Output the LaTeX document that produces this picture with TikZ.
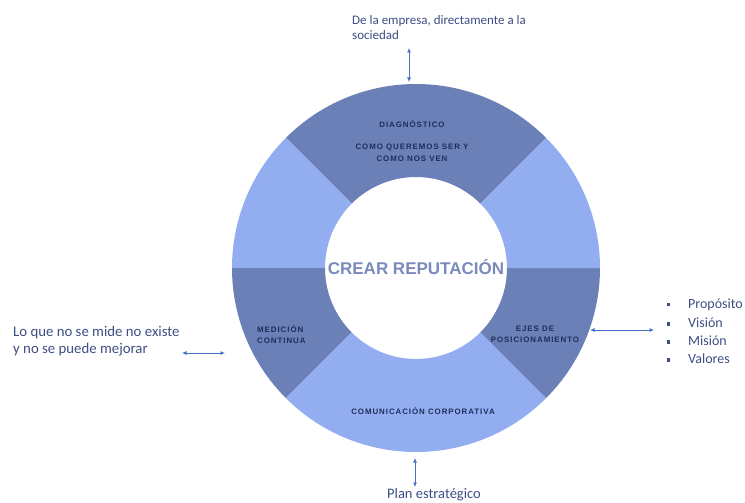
\documentclass[tikz,border=0pt]{standalone}
\usepackage{fontspec}
\setmainfont{Carlito}
\newfontfamily\arialfont{Liberation Sans}
\newfontfamily\segfont[LetterSpace=12]{Liberation Sans}
\usetikzlibrary{arrows.meta}
\definecolor{ringdark}{HTML}{6B80B6}
\definecolor{ringlight}{HTML}{93AEF0}
\definecolor{segtext}{HTML}{1F2D5C}
\definecolor{notetext}{HTML}{3E4E85}
\definecolor{linkblue}{HTML}{4472C4}
\definecolor{coretext}{HTML}{7A8ABC}
\begin{document}
\begin{tikzpicture}[x=1pt,y=1pt,
  segtxt/.style={font=\segfont\bfseries\fontsize{7.9}{11.5}\selectfont, text=segtext, align=center, inner sep=0pt},
  coretxt/.style={font=\arialfont\bfseries\fontsize{17}{20}\selectfont, text=coretext, inner sep=0pt},
  note/.style={font=\fontsize{14}{17.5}\selectfont, text=notetext, align=left, inner sep=0pt},
  link/.style={draw=linkblue, line width=0.8pt, {Latex[length=4.5pt,width=4pt]}-{Latex[length=4.5pt,width=4pt]}}
]
\useasboundingbox (0,0) rectangle (745,-503);
\coordinate (c) at (416,-268);
\def\Ro{184}
\def\Ri{91}
% ring made of six sectors
\foreach \a/\b/\col in {45/135/ringdark,135/180/ringlight,180/225/ringdark,225/315/ringlight,315/360/ringdark,0/45/ringlight}
  \fill[color=\col] ([shift={(\a:\Ro)}]c) arc[start angle=\a,end angle=\b,radius=\Ro]
     -- ([shift={(\b:\Ri)}]c) arc[start angle=\b,end angle=\a,radius=\Ri] -- cycle;

% sector labels
\node[segtxt] (diag) at (412,-124) {DIAGNÓSTICO};
\node[segtxt, font=\segfont\bfseries\fontsize{7.9}{12.3}\selectfont] (comoser) at (412,-153) {COMO QUEREMOS SER Y\\COMO NOS VEN};
\node[coretxt] (core) at (416,-267) {CREAR REPUTACIÓN};
\node[segtxt, anchor=west, align=left] (medicion) at (257,-334.5) {MEDICIÓN\\CONTINUA};
\node[segtxt] (ejes) at (535,-334.5) {EJES DE\\POSICIONAMIENTO};
\node[segtxt] (comunic) at (423,-411.5) {COMUNICACIÓN CORPORATIVA};

% outside notes
\node[note, anchor=north west, font=\fontsize{13}{15}\selectfont] (topnote) at (352,-15) {De la empresa, directamente a la\\sociedad};
\node[note, anchor=north west, font=\fontsize{14.8}{17.5}\selectfont] (leftnote) at (13,-326) {Lo que no se mide no existe\\y no se puede mejorar};
\node[note, anchor=center, font=\fontsize{14.5}{17}\selectfont] (botnote) at (434,-495) {Plan estratégico};
\foreach \t [count=\i] in {Propósito,Visión,Misión,Valores}
  \node[note, anchor=west] (item\i) at (667,-287-18*\i) {\makebox[21pt][l]{\rule[2.2pt]{3.2pt}{3.2pt}}\t};

% double-headed connectors
\coordinate (topA) at (409,-48);
\coordinate (topB) at (409,-82);
\coordinate (leftA) at (182,-353);
\coordinate (leftB) at (225,-353);
\coordinate (rightA) at (590,-330);
\coordinate (rightB) at (654,-330);
\coordinate (botA) at (415,-458);
\coordinate (botB) at (415,-487);
\draw[link] (topA) -- (topB);
\draw[link] (leftA) -- (leftB);
\draw[link] (rightA) -- (rightB);
\draw[link] (botA) -- (botB);
\end{tikzpicture}
\end{document}
